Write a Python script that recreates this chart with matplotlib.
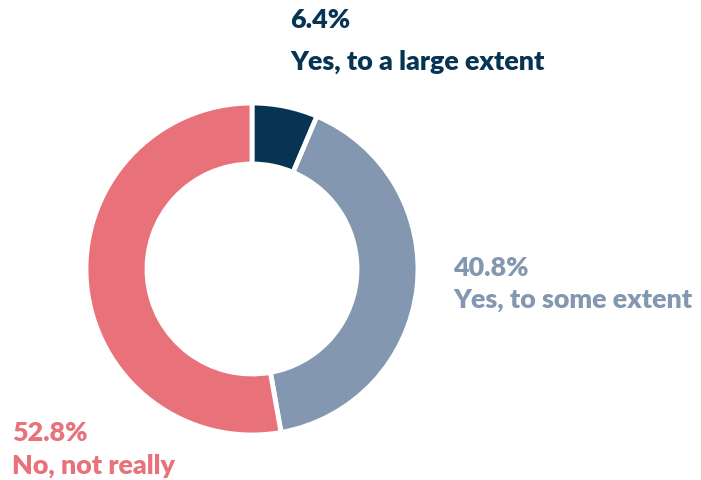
import matplotlib
matplotlib.use("Agg")
import matplotlib.pyplot as plt

labels = ["Yes, to a large extent", "Yes, to some extent", "No, not really"]
values = [6.4, 40.8, 52.8]
colors = ["#073452", "#8497B0", "#E8717A"]

H = 481
fig = plt.figure(figsize=(7.01, 4.81), dpi=100)
ax = fig.add_axes([0, 0, 1, 1])
ax.pie(values, colors=colors, startangle=90, counterclock=False,
       center=(252, H - 270), radius=166,
       wedgeprops=dict(width=61, edgecolor="white", linewidth=3.5))
ax.set_xlim(0, 701)
ax.set_ylim(0, H)
ax.set_aspect("equal")
ax.axis("off")

fs = 19.4
font = "Lato"
pos = [(290, 20, 62), (453, 268, 300), (12, 433, 466)]
for (x, y1, y2), lab, v, c in zip(pos, labels, values, colors):
    ax.text(x, H - y1, f"{v:.1f}%", color=c, fontsize=fs, fontweight="heavy",
            family=font, ha="left", va="center")
    ax.text(x, H - y2, lab, color=c, fontsize=fs, fontweight="heavy",
            family=font, ha="left", va="center")

fig.savefig("out.png", dpi=100)
